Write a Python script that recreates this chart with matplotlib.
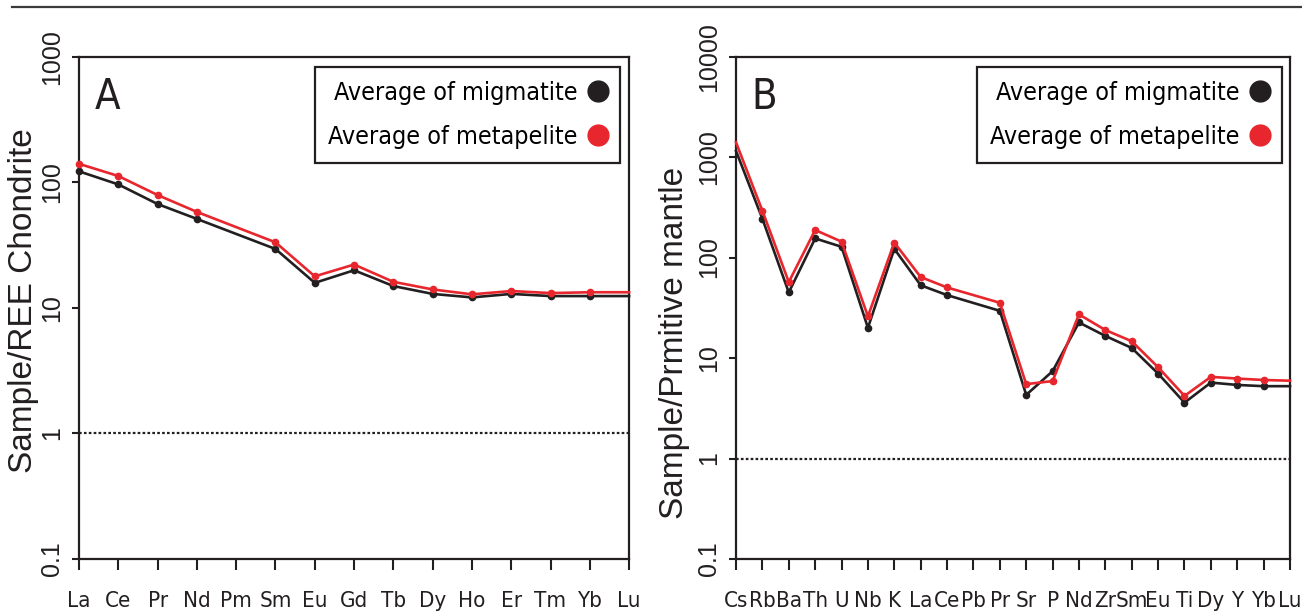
import numpy as np
import matplotlib
matplotlib.use("Agg")
import matplotlib.pyplot as plt
from matplotlib import font_manager
from matplotlib.lines import Line2D

# chondrite-normalised REE (panel A)
ree_elements = ["La", "Ce", "Pr", "Nd", "Pm", "Sm", "Eu", "Gd", "Tb", "Dy", "Ho", "Er", "Tm", "Yb", "Lu"]
ree_migmatite = [122, 96, 67, 51, np.nan, 29.4, 15.8, 19.9, 14.9, 12.9, 12.1, 12.9, 12.4, 12.4, 12.4]
ree_metapelite = [140, 112, 79, 58, np.nan, 33.2, 17.8, 22.1, 16.1, 14.0, 12.8, 13.6, 13.1, 13.3, 13.3]

# primitive-mantle-normalised trace elements (panel B)
pm_elements = ["Cs", "Rb", "Ba", "Th", "U", "Nb", "K", "La", "Ce", "Pb", "Pr", "Sr",
               "P", "Nd", "Zr", "Sm", "Eu", "Ti", "Dy", "Y", "Yb", "Lu"]
pm_migmatite = [1150, 243, 45, 155, 128, 20, 122, 53, 42.3, np.nan, 29.5, 4.3,
                7.4, 22.6, 16.6, 12.6, 7.0, 3.6, 5.7, 5.4, 5.25, 5.25]
pm_metapelite = [1400, 292, 57, 188, 144, 26, 141, 64, 50.4, np.nan, 35.5, 5.5,
                 5.9, 27.2, 19.0, 14.7, 8.1, 4.2, 6.5, 6.25, 6.05, 5.95]

BLACK = "#231f20"
RED = "#e8262d"

names = {f.name for f in font_manager.fontManager.ttflist}
if "Liberation Sans Narrow" in names:
    narrow = dict(family="Liberation Sans Narrow")
else:
    narrow = dict(family="DejaVu Sans", stretch="condensed")
plt.rcParams["font.family"] = ["Liberation Sans", "DejaVu Sans"]


def spider(ax, labels, low, high, ylim, ylabel, letter, no_marker, legend_anchor):
    x = np.arange(len(labels))
    for vals, col in [(low, BLACK), (high, RED)]:
        v = np.array(vals, dtype=float)
        ok = ~np.isnan(v)
        xs, vs = x[ok], v[ok]
        marks = [i for i, xi in enumerate(xs) if labels[xi] not in no_marker]
        ax.plot(xs, vs, color=col, lw=1.9, marker="o", ms=4.5, markevery=marks,
                clip_on=False, zorder=3)
    ax.axhline(1, color=BLACK, ls=(0, (1.2, 1.0)), lw=1.6, zorder=2)
    ax.set_yscale("log")
    ax.set_ylim(*ylim)
    ax.set_xlim(0, len(labels) - 1)
    ax.minorticks_off()
    decades = 10.0 ** np.arange(np.log10(ylim[0]), np.log10(ylim[1]) + 0.5)
    ax.set_yticks(decades)
    ax.set_yticklabels([f"{d:g}" for d in decades], rotation=90, va="center", fontsize=18)
    ax.set_xticks(x)
    ax.set_xticklabels(labels, fontsize=16, **narrow)
    ax.tick_params(axis="y", direction="out", length=5, width=1.5, pad=6, colors=BLACK)
    ax.tick_params(axis="x", direction="out", length=8, width=1.5, pad=15, colors=BLACK)
    for s in ax.spines.values():
        s.set_linewidth(1.6)
        s.set_color(BLACK)
    ax.set_ylabel(ylabel, fontsize=24, color=BLACK)
    ax.text(0.028, 0.962, letter, transform=ax.transAxes, ha="left", va="top",
            fontsize=30, color=BLACK, **narrow)
    handles = [Line2D([], [], ls="none", marker="o", color=BLACK, ms=15),
               Line2D([], [], ls="none", marker="o", color=RED, ms=15)]
    leg = ax.legend(handles, ["Average of migmatite", "Average of metapelite"],
                    loc="upper right", bbox_to_anchor=legend_anchor, borderaxespad=0,
                    markerfirst=False, handlelength=0.7, handletextpad=0.45,
                    labelspacing=0.8, borderpad=0.55, fancybox=False,
                    edgecolor=BLACK, framealpha=1, prop=dict(size=18, **narrow))
    leg.get_frame().set_linewidth(1.6)


fig = plt.figure(figsize=(13.02, 6.15), dpi=100)
ax_a = fig.add_axes([0.0607, 0.091, 0.4225, 0.817])
ax_b = fig.add_axes([0.5653, 0.091, 0.4255, 0.817])

spider(ax_a, ree_elements, ree_migmatite, ree_metapelite, (0.1, 1000),
       "Sample/REE Chondrite", "A", {"Lu"}, (0.984, 0.979))
spider(ax_b, pm_elements, pm_migmatite, pm_metapelite, (0.1, 10000),
       "Sample/Prmitive mantle", "B", {"Cs", "Lu"}, (0.986, 0.979))
ax_a.yaxis.set_label_coords(-0.072, 0.515)
ax_b.yaxis.set_label_coords(-0.083, 0.43)

fig.add_artist(Line2D([0.009, 1.0], [0.9886, 0.9886], transform=fig.transFigure,
                      color="#3a3a3a", lw=1.6))

fig.savefig("out.png", dpi=100)
